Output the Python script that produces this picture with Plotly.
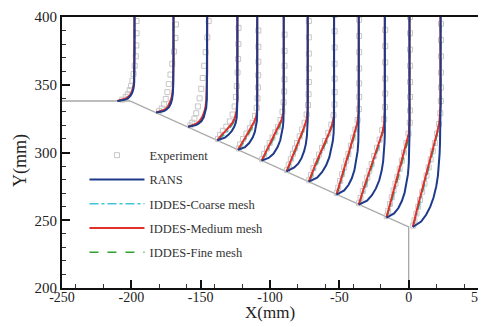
import plotly.graph_objects as go

# ---------------- data ----------------
wall_x = [-250, -201, 0, 0]
wall_y = [338, 338, 245, 200]

station_x = [-210, -182, -159, -138, -123, -106, -88, -72, -52, -36, -16, 3]
station_y = [338, 329.5, 319, 309, 302, 294, 286, 278.5, 269, 261.5, 252, 245]

# simulation profiles: height above wall (dy) and scaled velocity offset (u)
sim_dy = [
    [0, 1, 2, 4, 6, 9, 13, 20, 40, 70],
    [0, 1, 2, 4, 7, 10, 14, 20, 40, 80],
    [0, 1, 2, 4, 7, 10, 14, 20, 40, 90],
    [0, 2, 4, 7, 10, 13, 17, 22, 30, 50, 100],
    [0, 2, 5, 9, 13, 17, 21, 25, 30, 40, 100],
    [0, 2, 5, 10, 15, 20, 25, 30, 35, 45, 110],
    [0, 3, 6, 10, 15, 20, 26, 32, 38, 44, 55, 120],
    [0, 3, 7, 12, 18, 24, 30, 36, 42, 48, 60, 130],
    [0, 3, 7, 12, 18, 25, 32, 39, 46, 53, 60, 70, 140],
    [0, 3, 7, 12, 18, 25, 32, 39, 46, 53, 60, 70, 150],
    [0, 3, 7, 12, 18, 25, 32, 40, 48, 55, 62, 72, 160],
    [0, 4, 9, 15, 22, 30, 38, 46, 54, 62, 70, 78, 90, 170],
]
rans_u = [
    [0, 5.5, 7.5, 9.5, 10.6, 11.5, 12.0, 12.2, 12.3, 12.3],
    [0, 5.5, 7.2, 9.2, 10.6, 11.4, 11.9, 12.2, 12.4, 12.4],
    [0, 5.0, 7.0, 9.5, 11.2, 12.2, 13.0, 13.4, 13.7, 13.7],
    [0, 5.5, 8.0, 10.5, 12.2, 13.3, 14.0, 14.3, 14.5, 14.5, 14.5],
    [0, 5.0, 8.0, 10.5, 12.0, 13.0, 13.5, 13.7, 13.8, 13.8, 13.8],
    [0, 5.0, 8.5, 11.5, 13.4, 14.6, 15.3, 15.7, 15.9, 15.9, 15.9],
    [0, 5.5, 8.5, 10.8, 12.6, 13.8, 14.6, 15.0, 15.2, 15.2, 15.2, 15.2],
    [0, 6.0, 9.5, 12.5, 14.8, 16.3, 17.3, 17.9, 18.2, 18.2, 18.2, 18.2],
    [0, 5.5, 8.6, 11.0, 12.9, 14.3, 15.2, 15.7, 15.9, 16.0, 16.0, 16.0, 16.0],
    [0, 6.0, 9.5, 12.4, 14.8, 16.5, 17.6, 18.3, 18.6, 18.8, 18.8, 18.8, 18.8],
    [0, 5.5, 8.6, 11.0, 13.0, 14.5, 15.5, 16.1, 16.4, 16.6, 16.6, 16.6, 16.6],
    [0, 6.0, 9.6, 12.6, 15.0, 16.9, 18.1, 18.8, 19.3, 19.6, 19.8, 20.0, 20.0, 20.0],
]
coarse_u = [
    [0, 5.0, 7.0, 9.2, 10.4, 11.3, 11.9, 12.2, 12.3, 12.3],
    [0, 4.8, 6.6, 8.7, 10.2, 11.1, 11.8, 12.2, 12.4, 12.4],
    [0, 4.3, 6.2, 8.6, 10.5, 11.7, 12.6, 13.3, 13.7, 13.7],
    [0, 2.8, 5.0, 7.8, 10.0, 11.8, 13.2, 14.1, 14.5, 14.5, 14.5],
    [0, 1.8, 3.8, 6.2, 8.5, 10.5, 12.2, 13.3, 13.8, 13.8, 13.8],
    [0, 1.5, 3.2, 5.6, 8.0, 10.5, 12.8, 14.6, 15.6, 15.9, 15.9],
    [0, 1.6, 3.0, 4.5, 6.4, 8.4, 10.7, 12.8, 14.5, 15.1, 15.2, 15.2],
    [0, 1.8, 3.5, 5.5, 7.9, 10.4, 12.9, 15.2, 17.1, 18.0, 18.2, 18.2],
    [0, 1.4, 2.7, 4.1, 5.8, 7.8, 9.9, 11.9, 13.7, 15.2, 15.8, 16.0, 16.0],
    [0, 1.4, 2.8, 4.5, 6.5, 8.7, 11.0, 13.3, 15.5, 17.3, 18.4, 18.8, 18.8],
    [0, 1.3, 2.5, 3.9, 5.5, 7.3, 9.2, 11.3, 13.3, 15.0, 16.2, 16.6, 16.6],
    [0, 1.4, 2.8, 4.4, 6.2, 8.2, 10.3, 12.3, 14.3, 16.2, 17.9, 19.3, 20.0, 20.0],
]
medium_u = [
    [0, 4.5, 6.5, 8.8, 10.0, 11.1, 11.8, 12.1, 12.3, 12.3],
    [0, 4.2, 6.0, 8.2, 9.8, 10.8, 11.6, 12.1, 12.4, 12.4],
    [0, 3.8, 5.6, 8.0, 10.0, 11.3, 12.4, 13.1, 13.7, 13.7],
    [0, 1.5, 3.2, 6.0, 8.8, 11.0, 12.8, 13.9, 14.4, 14.5, 14.5],
    [0, 1.0, 2.8, 5.2, 7.6, 9.8, 11.8, 13.2, 13.8, 13.8, 13.8],
    [0, 0.8, 2.3, 4.8, 7.3, 9.8, 12.2, 14.3, 15.5, 15.9, 15.9],
    [0, 1.0, 2.2, 3.8, 5.8, 7.8, 10.2, 12.4, 14.3, 15.1, 15.2, 15.2],
    [0, 1.0, 2.5, 4.5, 7.0, 9.6, 12.2, 14.6, 16.8, 18.0, 18.2, 18.2],
    [0, 0.8, 1.9, 3.3, 5.0, 7.1, 9.2, 11.3, 13.3, 15.0, 15.8, 16.0, 16.0],
    [0, 0.8, 2.0, 3.6, 5.6, 7.9, 10.3, 12.7, 15.0, 17.0, 18.3, 18.8, 18.8],
    [0, 0.7, 1.7, 3.0, 4.6, 6.5, 8.4, 10.6, 12.8, 14.7, 16.1, 16.6, 16.6],
    [0, 0.8, 2.0, 3.5, 5.3, 7.4, 9.5, 11.6, 13.7, 15.7, 17.6, 19.2, 20.0, 20.0],
]
fine_u = [
    [0, 4.8, 6.8, 9.0, 10.2, 11.2, 11.9, 12.1, 12.3, 12.3],
    [0, 4.5, 6.3, 8.5, 10.0, 11.0, 11.7, 12.1, 12.4, 12.4],
    [0, 4.0, 5.9, 8.3, 10.3, 11.5, 12.5, 13.2, 13.7, 13.7],
    [0, 2.0, 3.8, 6.5, 9.2, 11.3, 13.0, 14.0, 14.4, 14.5, 14.5],
    [0, 1.3, 3.2, 5.6, 8.0, 10.2, 12.0, 13.3, 13.8, 13.8, 13.8],
    [0, 1.0, 2.6, 5.2, 7.7, 10.2, 12.6, 14.5, 15.6, 15.9, 15.9],
    [0, 1.2, 2.5, 4.1, 6.1, 8.1, 10.5, 12.7, 14.5, 15.1, 15.2, 15.2],
    [0, 1.2, 2.8, 4.9, 7.4, 10.0, 12.6, 15.0, 17.0, 18.0, 18.2, 18.2],
    [0, 1.0, 2.2, 3.6, 5.3, 7.4, 9.5, 11.6, 13.5, 15.1, 15.8, 16.0, 16.0],
    [0, 1.0, 2.3, 4.0, 6.0, 8.3, 10.7, 13.0, 15.3, 17.2, 18.4, 18.8, 18.8],
    [0, 0.9, 2.0, 3.4, 5.0, 6.9, 8.8, 11.0, 13.1, 14.9, 16.2, 16.6, 16.6],
    [0, 1.0, 2.3, 3.9, 5.7, 7.8, 9.9, 12.0, 14.0, 16.0, 17.8, 19.3, 20.0, 20.0],
]

# experimental points
exp_dy = [
    [1, 3, 5, 8, 11, 15, 20, 26, 33, 41, 50, 59],
    [1, 3, 6, 10, 15, 21, 28, 36, 45, 55, 65, 76],
    [1, 3, 6, 10, 15, 21, 28, 36, 45, 55, 66, 78],
    [1, 4, 7, 10, 14, 19, 25, 32, 40, 50, 60, 71, 83],
    [1, 4, 8, 12, 16, 20, 25, 31, 38, 46, 55, 65, 76, 88],
    [1, 5, 9, 13, 17, 21, 25, 30, 36, 43, 51, 60, 70, 81, 93],
    [1, 5, 9, 13, 17, 21, 26, 31, 36, 42, 49, 57, 66, 76, 87, 99, 111],
    [1, 5, 10, 15, 20, 25, 30, 36, 42, 49, 57, 66, 76, 87, 99, 111, 123],
    [1, 5, 10, 15, 20, 25, 30, 36, 42, 48, 55, 63, 72, 82, 93, 105, 117, 129],
    [1, 5, 10, 15, 20, 25, 30, 36, 42, 48, 55, 63, 72, 82, 93, 105, 117, 129, 141],
    [1, 5, 10, 15, 20, 25, 30, 36, 42, 48, 55, 62, 70, 79, 89, 100, 112, 124, 136, 148],
    [1, 5, 10, 15, 20, 26, 32, 38, 44, 50, 56, 62, 69, 76, 84, 93, 103, 114, 126, 138, 150],
]
exp_u = [
    [3.5, 6.0, 7.5, 8.8, 9.8, 10.8, 11.6, 12.4, 13.2, 13.6, 13.8, 13.8],
    [2.0, 4.0, 5.5, 6.8, 8.0, 9.0, 10.2, 11.5, 12.8, 13.8, 14.2, 14.4],
    [1.5, 3.0, 4.5, 5.8, 7.0, 8.2, 9.4, 10.5, 11.5, 12.6, 13.8, 14.8],
    [0.5, 2.0, 4.0, 6.5, 9.0, 11.0, 12.5, 13.4, 14.0, 14.6, 15.0, 15.2, 15.3],
    [0.5, 1.5, 3.5, 6.0, 8.5, 10.5, 12.2, 13.4, 14.0, 14.3, 14.5, 14.6, 14.6, 14.6],
    [0.3, 1.8, 3.8, 5.8, 7.8, 9.8, 11.8, 13.6, 15.0, 15.8, 16.2, 16.4, 16.5, 16.5, 16.5],
    [0.3, 1.5, 3.0, 4.5, 6.0, 7.5, 9.4, 11.2, 12.9, 14.4, 15.4, 15.8, 16.0, 16.0, 16.0, 16.0, 16.0],
    [0.3, 1.5, 3.3, 5.3, 7.4, 9.5, 11.6, 14.0, 16.2, 17.8, 18.5, 18.6, 18.6, 18.6, 18.6, 18.6, 18.6],
    [0.2, 1.2, 2.6, 4.0, 5.5, 7.0, 8.5, 10.3, 12.0, 13.6, 15.2, 16.1, 16.3, 16.3, 16.3, 16.3, 16.3, 16.3],
    [0.2, 1.3, 2.9, 4.5, 6.1, 7.7, 9.3, 11.2, 13.1, 15.0, 16.9, 18.4, 19.0, 19.1, 19.1, 19.1, 19.1, 19.1, 19.1],
    [0.2, 1.2, 2.5, 3.8, 5.1, 6.5, 7.9, 9.5, 11.1, 12.7, 14.4, 15.9, 16.8, 17.0, 17.0, 17.0, 17.0, 17.0, 17.0, 17.0],
    [0.3, 1.2, 2.6, 3.9, 5.2, 6.8, 8.4, 9.9, 11.4, 12.9, 14.4, 15.9, 17.5, 18.9, 19.8, 20.2, 20.3, 20.3, 20.3, 20.3, 20.3],
]

x_ticks = [-250, -200, -150, -100, -50, 0, 50]
y_ticks = [200, 250, 300, 350, 400]
x_title = "X(mm)"
y_title = "Y(mm)"


def build(dy_sets, u_sets, gap=True):
    xs, ys = [], []
    for xs0, ys0, dys, us in zip(station_x, station_y, dy_sets, u_sets):
        xs += [xs0 + u for u in us]
        ys += [ys0 + d for d in dys]
        if gap:
            xs.append(None)
            ys.append(None)
    return xs, ys


FONT = "Liberation Serif"
fig = go.Figure()

fig.add_trace(go.Scatter(x=wall_x, y=wall_y, mode="lines",
                         line=dict(color="#a8a8a8", width=1.3),
                         showlegend=False, hoverinfo="skip"))

ex, ey = build(exp_dy, exp_u, gap=False)
fig.add_trace(go.Scatter(x=ex, y=ey, mode="markers", name="Experiment",
                         legendgroup="a", legendrank=1,
                         marker=dict(symbol="square-open", size=5,
                                     color="#c6c6c6", line=dict(width=1))))

series = [
    ("IDDES-Coarse mesh", coarse_u, dict(color="#45c3d6", width=1.5, dash="dashdot"), 3, "c"),
    ("IDDES-Fine mesh", fine_u, dict(color="#2ea02e", width=1.5, dash="dash"), 5, "e"),
    ("IDDES-Medium mesh", medium_u, dict(color="#e0312b", width=2), 4, "d"),
    ("RANS", rans_u, dict(color="#1e3a8a", width=2), 2, "b"),
]
for name, us, ln, rank, grp in series:
    sx, sy = build(sim_dy, us)
    fig.add_trace(go.Scatter(x=sx, y=sy, mode="lines", name=name,
                             legendgroup=grp, legendrank=rank, line=ln))

# the page body adds an 8px offset, so the figure is 8px smaller
fig.update_layout(
    width=478, height=319,
    margin=dict(l=54, r=8, t=9, b=39),
    paper_bgcolor="white", plot_bgcolor="white",
    font=dict(family=FONT, color="#222"),
    legend=dict(x=0.054, y=0.544, xanchor="left", yanchor="top",
                bgcolor="rgba(0,0,0,0)", font=dict(family=FONT, size=12.5, color="#333"),
                tracegroupgap=5, itemwidth=55),
    annotations=[
        dict(text=x_title, xref="paper", yref="paper", x=0.5, y=-0.090,
             xanchor="center", yanchor="middle", showarrow=False,
             font=dict(family=FONT, size=17, color="#222")),
        dict(text=y_title, xref="paper", yref="paper", x=-0.101, y=0.472,
             xanchor="center", yanchor="middle", showarrow=False, textangle=-90,
             font=dict(family=FONT, size=18, color="#222")),
    ],
)
fig.update_xaxes(
    range=[-250, 50], tickvals=x_ticks, ticktext=[str(v) for v in x_ticks],
    showgrid=False, zeroline=False, automargin=False, ticklabelstandoff=-5,
    ticks="inside", ticklen=8, tickwidth=2, tickcolor="#111",
    showline=True, linecolor="#111", linewidth=2, mirror=True,
    minor=dict(ticks="inside", ticklen=4, tickwidth=1, tickcolor="#333", nticks=6, showgrid=False),
    tickfont=dict(family=FONT, size=14, color="#222"),
)
fig.update_yaxes(
    range=[200, 400], tickvals=y_ticks, ticktext=[str(v) for v in y_ticks],
    showgrid=False, zeroline=False, automargin=False,
    ticks="inside", ticklen=8, tickwidth=2, tickcolor="#111",
    showline=True, linecolor="#111", linewidth=2, mirror=True,
    minor=dict(ticks="inside", ticklen=4, tickwidth=1, tickcolor="#333", nticks=5, showgrid=False),
    tickfont=dict(family=FONT, size=15, color="#222"),
)

fig.write_html("out.html", config={"displayModeBar": False})
